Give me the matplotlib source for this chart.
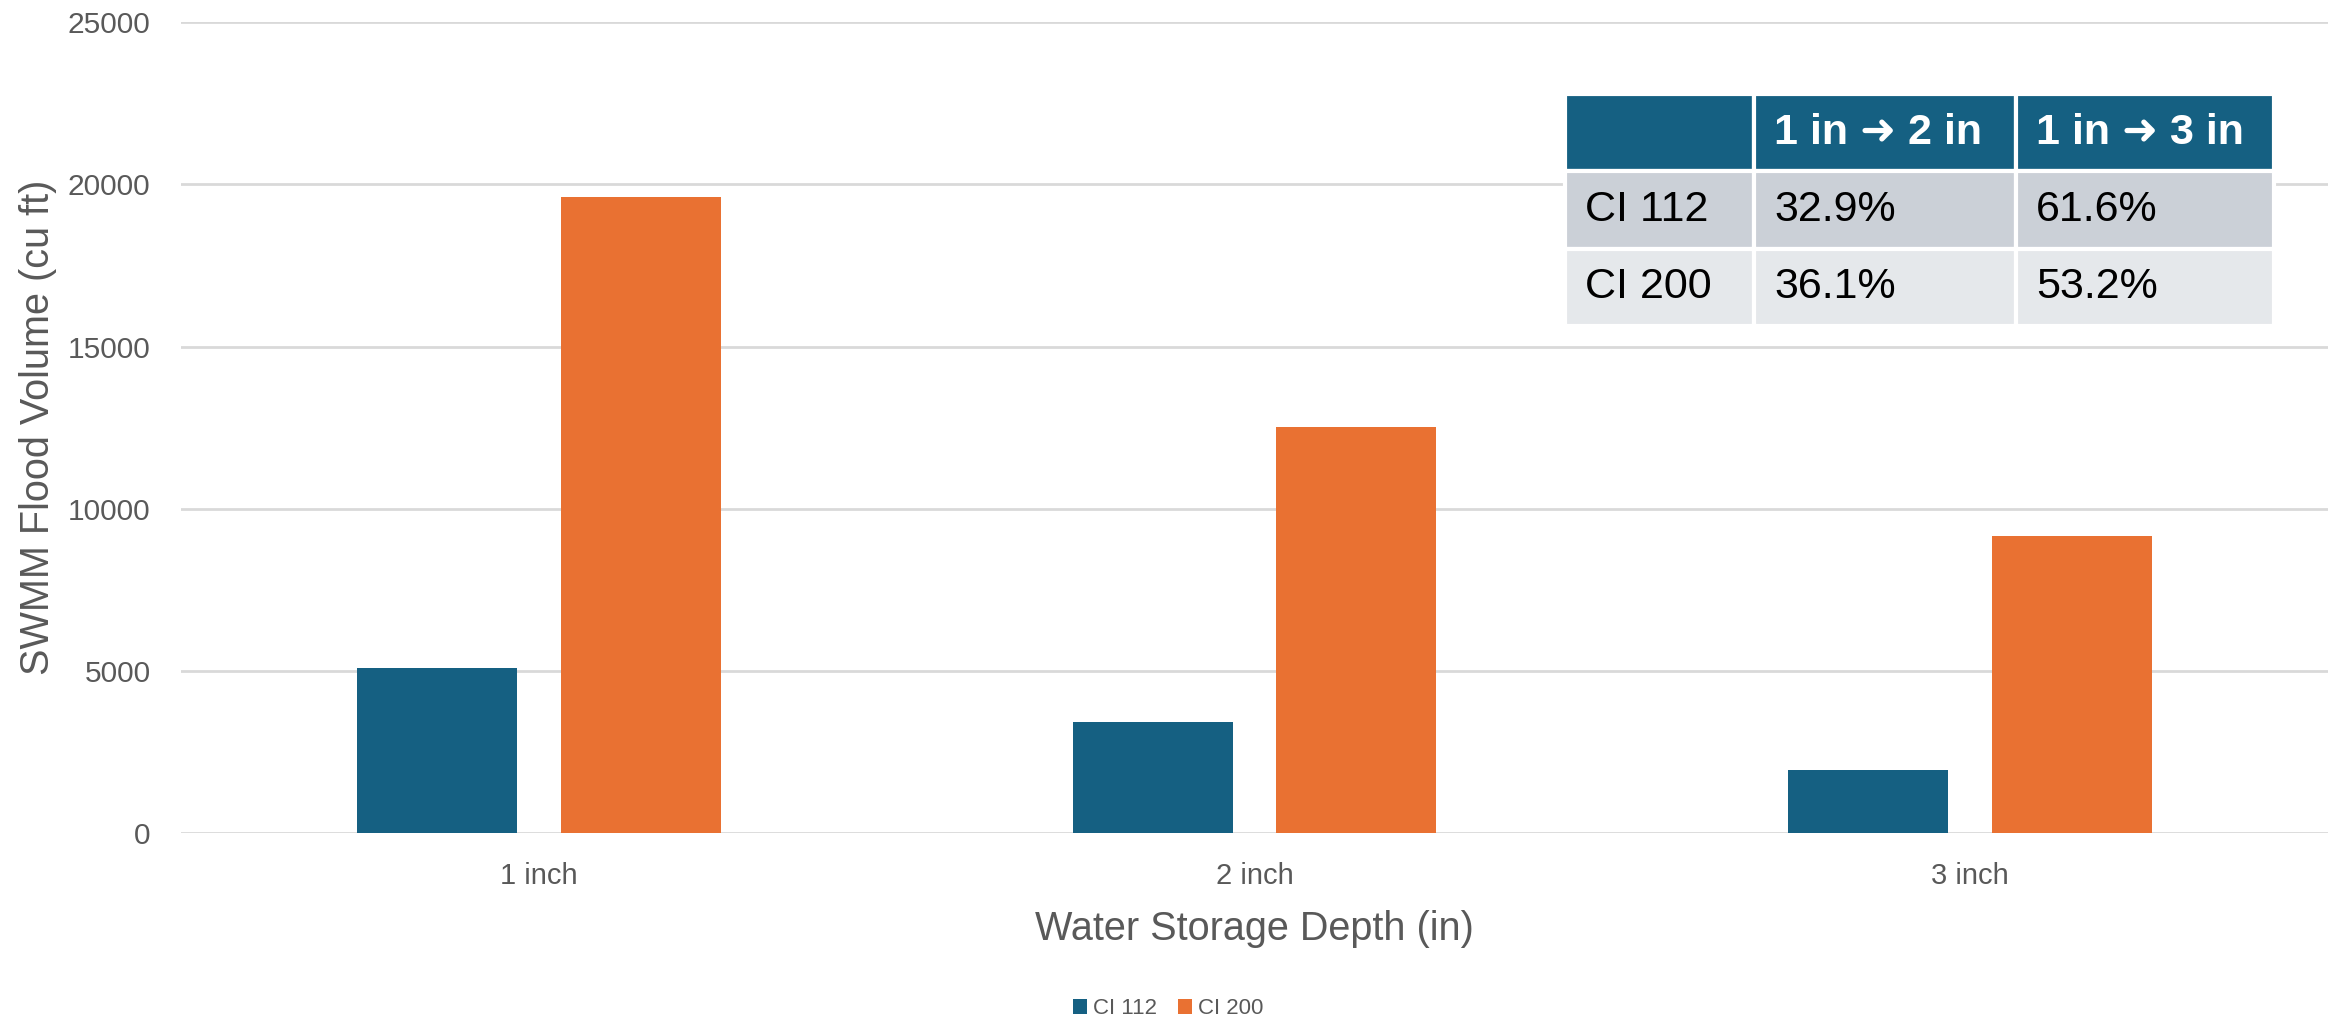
import matplotlib
matplotlib.use("Agg")
import matplotlib.pyplot as plt
import numpy as np

# Flood volume by water storage depth
categories = ["1 inch", "2 inch", "3 inch"]
series_names = ["CI 112", "CI 200"]
ci112 = [5080, 3410, 1950]
ci200 = [19600, 12525, 9170]

# Reduction table
table_cols = ["", "1 in \u279C 2 in", "1 in \u279C 3 in"]
table_rows = [["CI 112", "32.9%", "61.6%"],
              ["CI 200", "36.1%", "53.2%"]]

yticks = [0, 5000, 10000, 15000, 20000, 25000]

BLUE = "#156082"
ORANGE = "#E97132"
GRID = "#D9D9D9"
TXT = "#595959"
FONT = ["Liberation Sans", "DejaVu Sans"]

plt.rcParams["font.family"] = FONT

W, H = 2341, 1018
fig = plt.figure(figsize=(W / 100, H / 100), dpi=100)
ax = fig.add_axes([181 / W, 1 - 833 / H, (2328 - 181) / W, (833 - 22.3) / H])

x = np.arange(len(categories))
bw = 0.2236
off = 0.1421
ax.bar(x - off, ci112, bw, color=BLUE, label=series_names[0], zorder=3)
ax.bar(x + off, ci200, bw, color=ORANGE, label=series_names[1], zorder=3)

ax.set_xlim(-0.5, len(categories) - 0.5)
ax.set_ylim(0, 25000)
ax.set_yticks(yticks)
ax.set_yticklabels([str(v) for v in yticks])
ax.set_xticks(x)
ax.set_xticklabels(categories)
ax.yaxis.grid(True, color=GRID, linewidth=2, zorder=0)
ax.set_axisbelow(True)
for s in ax.spines.values():
    s.set_visible(False)
ax.tick_params(axis="both", length=0, colors=TXT)
ax.tick_params(axis="y", labelsize=21.5, pad=22)
ax.tick_params(axis="x", labelsize=21, pad=21)

ax.set_xlabel("Water Storage Depth (in)", fontsize=28.5, color=TXT, labelpad=14)
ax.set_ylabel("SWMM Flood Volume (cu ft)", fontsize=28.5, color=TXT, labelpad=8)

leg = ax.legend(loc="center", bbox_to_anchor=(1168 / W, 1 - 1009 / H),
                bbox_transform=fig.transFigure, ncol=2, frameon=False,
                fontsize=16, handlelength=0.64, handleheight=0.64,
                handletextpad=0.25, columnspacing=0.95, labelcolor=TXT)

# Summary table placed in the upper right of the plot area
tl, tr, tt, tb = 1565, 2274, 94, 326
col_px = [1754 - 1565, 2016 - 1754, 2274 - 2016]
tot = sum(col_px)
tab = ax.table(cellText=table_rows, colLabels=table_cols,
               colWidths=[c / tot for c in col_px], cellLoc="left",
               colLoc="left",
               bbox=[tl / W, 1 - tb / H, (tr - tl) / W, (tb - tt) / H],
               transform=fig.transFigure)
tab.auto_set_font_size(False)
row_fill = ["#CBD0D7", "#E5E8EB"]
for (r, c), cell in tab.get_celld().items():
    cell.set_edgecolor("white")
    cell.set_linewidth(3)
    cell.PAD = 20 / col_px[c]
    t = cell.get_text()
    t.set_fontfamily(FONT)
    if r == 0:
        cell.set_facecolor(BLUE)
        t.set_color("white")
        t.set_fontweight("bold")
        t.set_fontsize(31)
    else:
        cell.set_facecolor(row_fill[r - 1])
        t.set_color("black")
        t.set_fontsize(31)
tab.set_zorder(5)

fig.savefig("out.png", dpi=100, facecolor="white")
